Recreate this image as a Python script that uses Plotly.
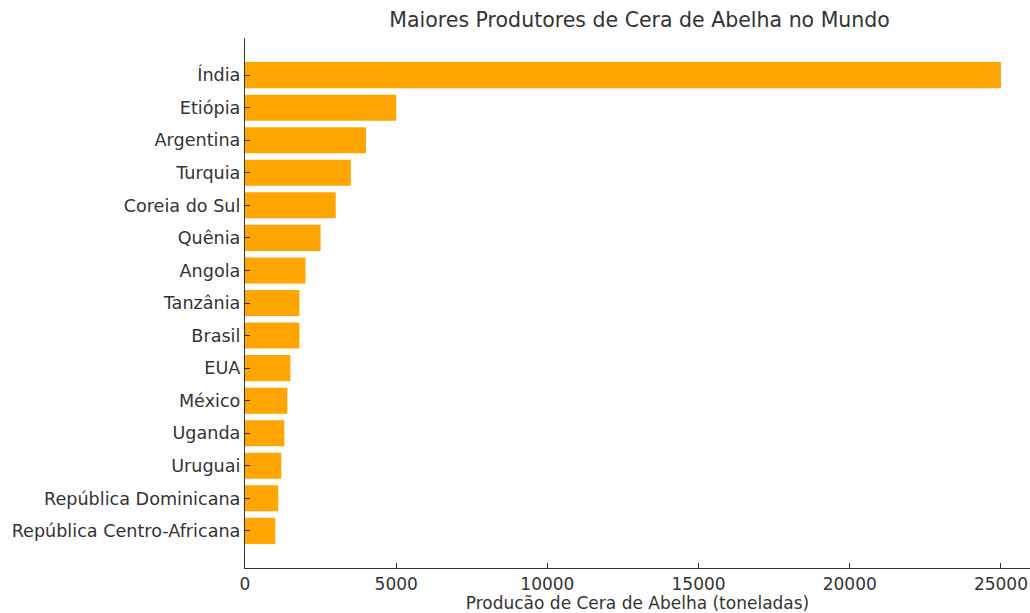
import plotly.graph_objects as go

countries = ["Índia", "Etiópia", "Argentina", "Turquia", "Coreia do Sul", "Quênia", "Angola",
             "Tanzânia", "Brasil", "EUA", "México", "Uganda", "Uruguai",
             "República Dominicana", "República Centro-Africana"]
production = [25000, 5000, 4000, 3500, 3000, 2500, 2000, 1800, 1800, 1500, 1400, 1300, 1200, 1100, 1000]
x_ticks = [0, 5000, 10000, 15000, 20000, 25000]

fig = go.Figure(go.Bar(
    x=production, y=countries, orientation="h",
    marker=dict(color="#FFA500", line=dict(width=0)), width=0.8,
))

fig.update_layout(
    width=1030, height=613,
    paper_bgcolor="white", plot_bgcolor="white",
    margin=dict(l=245, r=0, t=38, b=45, autoexpand=False),
    font=dict(family="DejaVu Sans", size=17, color="#333333"),
    title=dict(text="Maiores Produtores de Cera de Abelha no Mundo", x=0.621, xanchor="center",
               y=0.967, yanchor="middle", font=dict(size=20.5, color="#333333")),
    showlegend=False,
)
fig.update_xaxes(
    range=[0, 25960], tickvals=x_ticks, ticktext=[str(v) for v in x_ticks],
    showgrid=False, zeroline=False, showline=True, linecolor="#333333", linewidth=1.2,
    ticks="inside", ticklen=5, tickcolor="#333333", automargin=False,
    tickfont=dict(size=17),
    title=dict(text="Producão de Cera de Abelha (toneladas)", standoff=3, font=dict(size=17)),
)
fig.update_yaxes(
    categoryorder="array", categoryarray=countries[::-1], range=[-1.14, 15.14],
    showgrid=False, zeroline=False, showline=True, linecolor="#333333", linewidth=1.2,
    ticks="inside", ticklen=5, tickcolor="#333333", automargin=False,
    tickfont=dict(size=17.6),
)
fig.write_html("out.html", config={"displayModeBar": False},
               post_script="document.body.style.margin='0';document.body.style.overflow='hidden';")
